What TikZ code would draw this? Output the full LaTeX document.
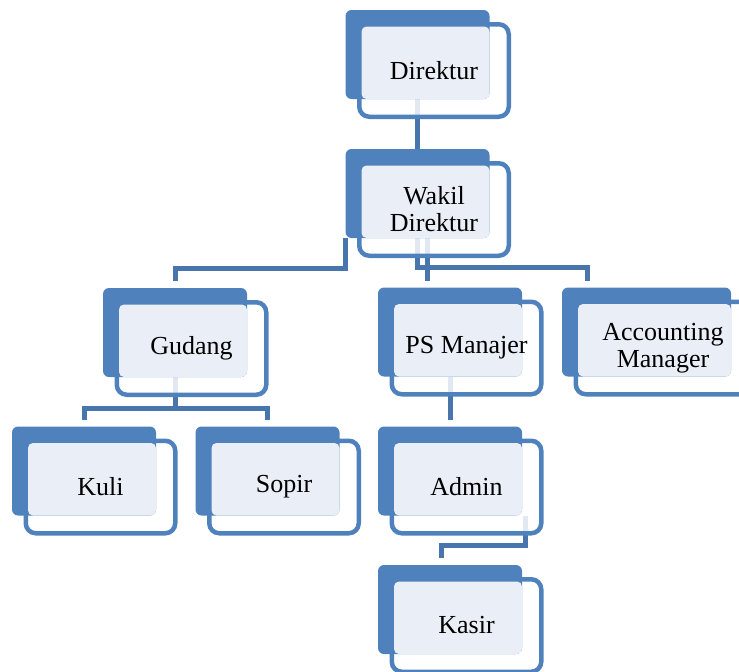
\documentclass[tikz,border=0pt]{standalone}
\usepackage{fontspec}
\setmainfont{Liberation Serif}
\usetikzlibrary{calc,backgrounds}

\definecolor{boxblue}{RGB}{79,129,189}
\definecolor{linkblue}{RGB}{72,117,172}
\definecolor{lightbox}{RGB}{234,239,247}

\tikzset{
  backbox/.style={fill=boxblue, rounded corners=6pt, minimum width=144pt,
    minimum height=89pt, inner sep=0pt, outer sep=0pt},
  outbox/.style={draw=boxblue, line width=4.5pt, fill=white, fill opacity=.84,
    rounded corners=10pt, minimum height=92.5pt, inner sep=0pt, outer sep=0pt},
  lightfill/.style={fill=lightbox, rounded corners=5pt},
  lbl/.style={font=\fontsize{26}{27}\selectfont, align=center, text=black},
  link/.style={draw=linkblue, line width=5pt}
}

% one unit of the chart: [width] name, position, text
\newcommand\orgunit[4][144]{%
  \node[outbox, minimum width=#1pt+5.5pt] (#2-o) at ($(#3)+(16.5,16)$) {};
  \node[backbox, minimum width=#1pt] (#2) at (#3) {};
  \fill[lightfill] ($(#2-o.north west)+(2.25,2.25)$) rectangle (#2.south east);
  \node[lbl] (#2-t) at (#2-o) {#4};
}

\begin{document}
\begin{tikzpicture}[x=1pt,y=-1pt]
\useasboundingbox (0,0) rectangle (739,672);

\orgunit{dir}{417.5,54.5}{Direktur}
\orgunit{wdir}{417.5,193.5}{Wakil\\Direktur}
\orgunit{gudang}{175,332.5}{Gudang}
\orgunit{ps}{450,332}{PS Manajer}
\orgunit[169]{acc}{646.5,332}{Accounting\\Manager}
\orgunit{kuli}{84,471}{Kuli}
\orgunit{sopir}{267.5,471}{Sopir}
\orgunit{admin}{450,471}{Admin}
\orgunit{kasir}{450,609.5}{Kasir}

\begin{scope}[on background layer]
\draw[link] (dir.south) -- (wdir.north);
\draw[link] (wdir.south west) |- ($(gudang.north)+(0,-20)$) -- ($(gudang.north)+(0,-7)$);
\draw[link] ($(wdir.south)+(9.5,0)$) -- ($(ps.north)+(-23,-7)$);
\draw[link] (wdir.south) |- ($(acc.north west)+(25,-20)$) -- ($(acc.north west)+(25,-7)$);
\draw[link] (gudang.south) |- ($(kuli.north)+(0,-18)$) -- ($(kuli.north)+(0,-7)$);
\draw[link] (gudang.south) |- ($(sopir.north)+(0,-18)$) -- ($(sopir.north)+(0,-7)$);
\draw[link] (ps.south) -- ($(admin.north)+(0,-7)$);
\draw[link] ($(admin.south east)+(3,0)$) |- ($(kasir.north)+(-9,-20)$) -- ($(kasir.north)+(-9,-7)$);
\end{scope}
\end{tikzpicture}
\end{document}
